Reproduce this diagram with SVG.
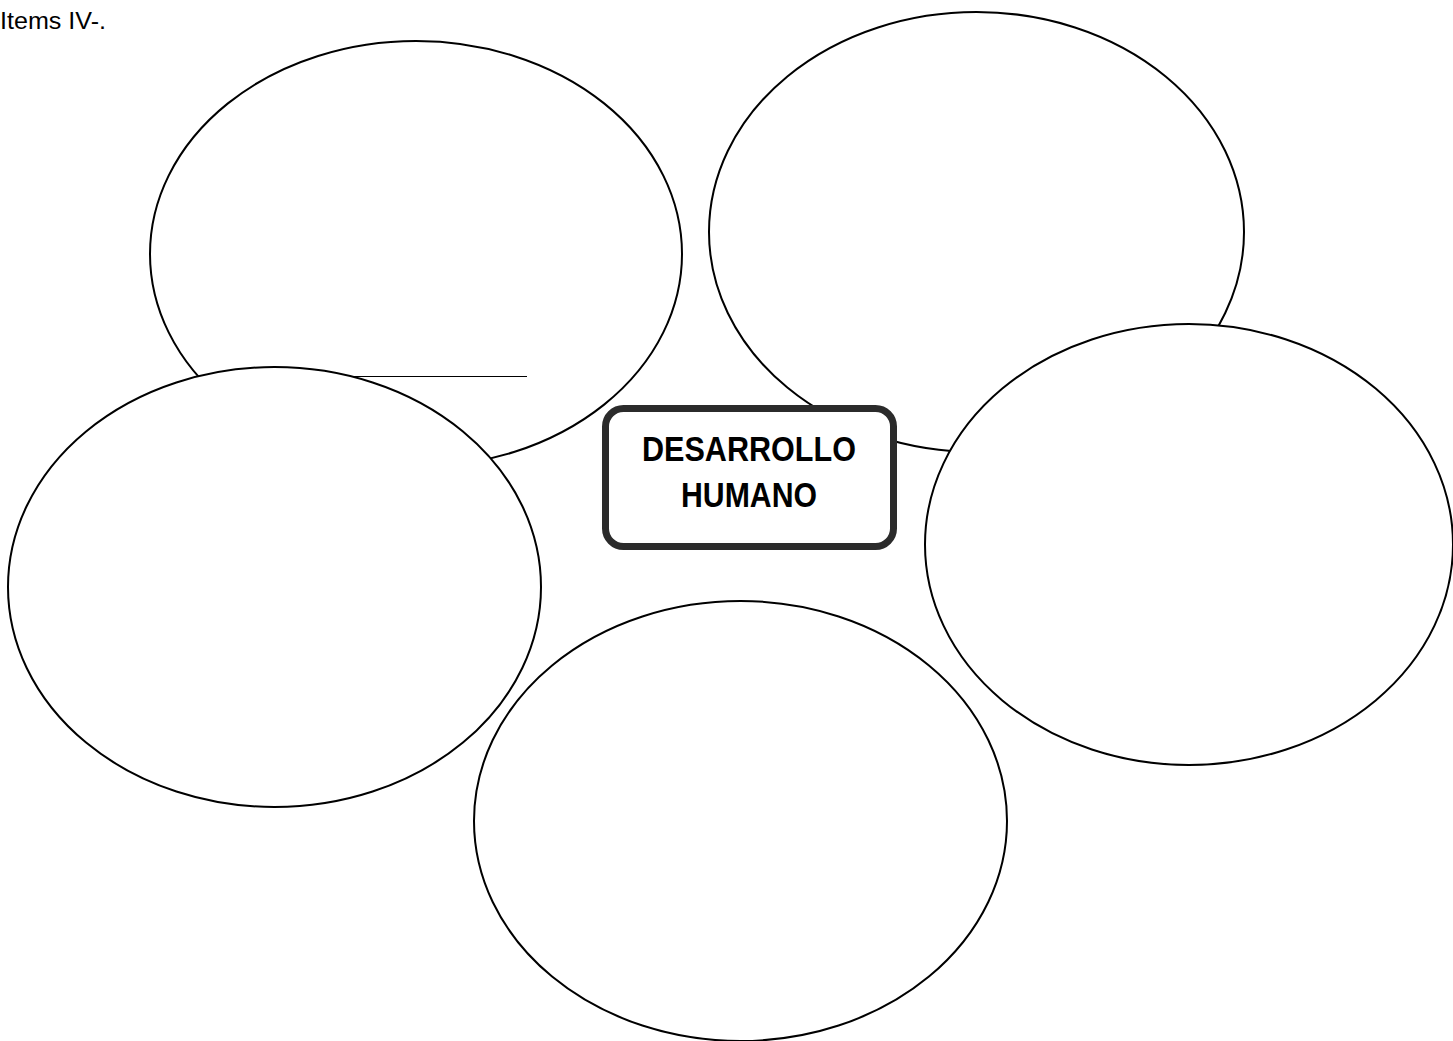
<svg xmlns="http://www.w3.org/2000/svg" width="1453" height="1041" viewBox="0 0 1453 1041">
<style>
.bub{fill:#fff;stroke:#000;stroke-width:2}
.title{font-family:"Liberation Sans",Arial,sans-serif;font-size:24px;fill:#000}
.main{font-family:"Liberation Sans",Arial,sans-serif;font-size:35px;font-weight:bold;fill:#000;text-anchor:middle}
</style>
<rect width="1453" height="1041" fill="#fff"/>
<text class="title" x="0" y="29" textLength="106" lengthAdjust="spacingAndGlyphs">Items IV-.</text>
<g id="bubble-top-left">
<ellipse class="bub" cx="416" cy="254" rx="266" ry="213"/>
<line x1="340" y1="376.5" x2="527" y2="376.5" stroke="#000" stroke-width="1"/>
</g>
<g id="bubble-top-right">
<ellipse class="bub" cx="976.5" cy="232" rx="267.5" ry="220"/>
</g>
<g id="bubble-left">
<ellipse class="bub" cx="274.5" cy="587" rx="266.5" ry="220"/>
</g>
<g id="bubble-right">
<ellipse class="bub" cx="1189" cy="544.5" rx="264" ry="220.5"/>
</g>
<g id="bubble-bottom">
<ellipse class="bub" cx="740.5" cy="821" rx="266.5" ry="220"/>
</g>
<g id="connectors"></g>
<g id="center">
<rect x="605.5" y="408.5" width="288" height="138" rx="18" ry="18" fill="#fff" stroke="#2b2b2b" stroke-width="7"/>
<text class="main" x="749" y="461" textLength="214" lengthAdjust="spacingAndGlyphs">DESARROLLO</text>
<text class="main" x="749" y="507" textLength="136" lengthAdjust="spacingAndGlyphs">HUMANO</text>
</g>
</svg>
